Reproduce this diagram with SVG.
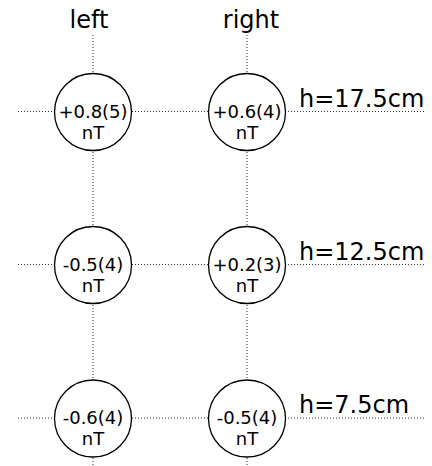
<svg xmlns="http://www.w3.org/2000/svg" width="432" height="466" viewBox="0 0 432 466">
  <style>
    .grid { stroke: #333; stroke-width: 1; stroke-dasharray: 1 2; fill: none; }
    .probe circle { fill: #fff; stroke: #000; stroke-width: 1.3; }
    .probe text { font-family: "DejaVu Sans", sans-serif; font-size: 18px; text-anchor: middle; fill: #000; }
    .label { font-family: "DejaVu Sans", sans-serif; font-size: 24px; fill: #000; }
  </style>
  <rect width="432" height="466" fill="#fff"/>

  <!-- dotted guide lines through the probe positions -->
  <g id="connectors">
    <line class="grid" x1="93" y1="35" x2="93" y2="466"/>
    <line class="grid" x1="247" y1="35" x2="247" y2="466"/>
    <line class="grid" x1="18" y1="111.5" x2="424" y2="111.5"/>
    <line class="grid" x1="18" y1="264.5" x2="424" y2="264.5"/>
    <line class="grid" x1="18" y1="418" x2="424" y2="418"/>
  </g>

  <!-- column headers -->
  <text class="label" x="89" y="28" text-anchor="middle">left</text>
  <text class="label" x="251" y="28" text-anchor="middle">right</text>

  <!-- height labels -->
  <text class="label" x="299" y="107">h=17.5cm</text>
  <text class="label" x="299" y="260">h=12.5cm</text>
  <text class="label" x="299" y="413">h=7.5cm</text>

  <!-- probe readings -->
  <g id="left-17" class="probe">
    <circle cx="93" cy="112" r="38.5"/>
    <text x="93" y="117.5">+0.8(5)</text>
    <text x="93" y="138.5">nT</text>
  </g>
  <g id="right-17" class="probe">
    <circle cx="247" cy="112" r="38.5"/>
    <text x="247" y="117.5">+0.6(4)</text>
    <text x="247" y="138.5">nT</text>
  </g>
  <g id="left-12" class="probe">
    <circle cx="93" cy="265" r="38.5"/>
    <text x="93" y="270.5">-0.5(4)</text>
    <text x="93" y="291.5">nT</text>
  </g>
  <g id="right-12" class="probe">
    <circle cx="247" cy="265" r="38.5"/>
    <text x="247" y="270.5">+0.2(3)</text>
    <text x="247" y="291.5">nT</text>
  </g>
  <g id="left-7" class="probe">
    <circle cx="93" cy="418.5" r="38.5"/>
    <text x="93" y="424">-0.6(4)</text>
    <text x="93" y="445">nT</text>
  </g>
  <g id="right-7" class="probe">
    <circle cx="247" cy="418.5" r="38.5"/>
    <text x="247" y="424">-0.5(4)</text>
    <text x="247" y="445">nT</text>
  </g>
</svg>
